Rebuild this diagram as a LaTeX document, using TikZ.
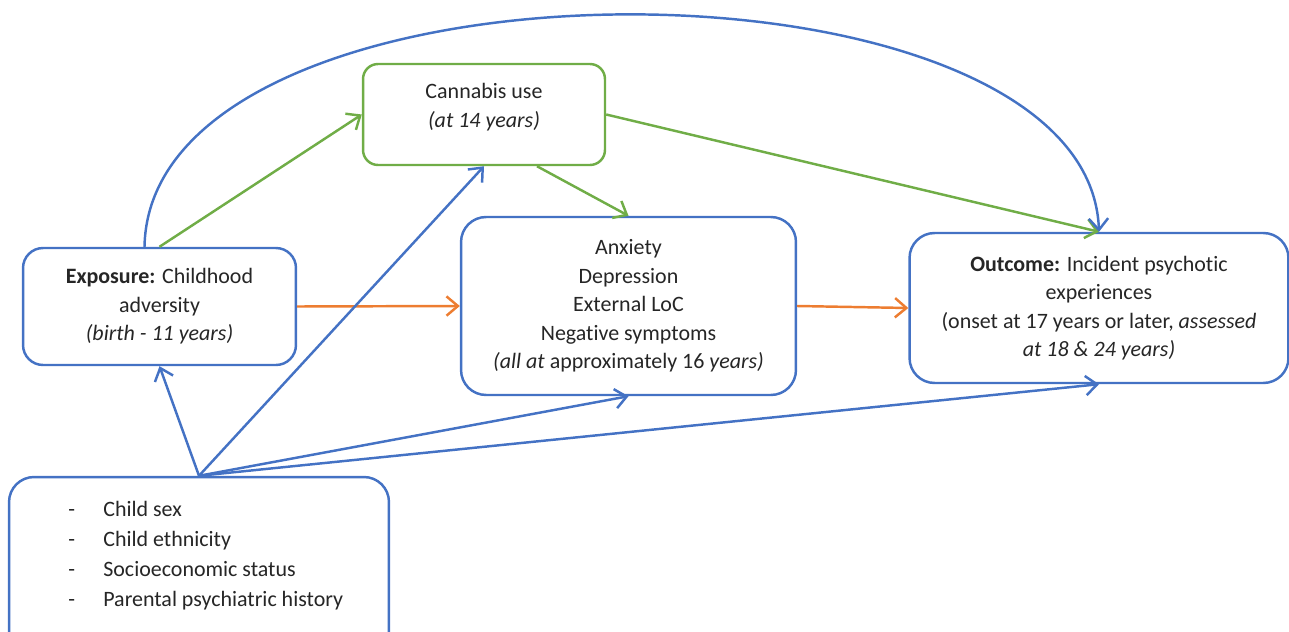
\documentclass[tikz,border=0pt]{standalone}
\usepackage{fontspec}
\setmainfont{Carlito}[Ligatures=NoCommon]
\usetikzlibrary{arrows.meta}
\definecolor{cblue}{HTML}{4472C4}
\definecolor{cgreen}{HTML}{70AD47}
\definecolor{corange}{HTML}{ED7D31}
\definecolor{ctext}{HTML}{262626}
\tikzset{
  box/.style={draw, line width=1.4pt, fill=white, inner sep=0pt, text=ctext,
    align=center, font=\fontsize{12.5}{16.2}\selectfont},
  txt/.style={inner sep=0pt, text=ctext, font=\fontsize{12.5}{16.2}\selectfont},
  conn/.style={line width=1.4pt, -{Straight Barb[length=6.5pt,width=11pt]}},
}
\begin{document}
\begin{tikzpicture}[x=0.02cm,y=-0.02cm]
\useasboundingbox (0,0) rectangle (1289,632);
\clip (0,0) rectangle (1289,632);
% boxes
\node[box, draw=cgreen, minimum width=4.84cm, minimum height=2.02cm, rounded corners=0.3cm] (cann) at (484,114.5) {};
\node[txt, align=center] (canntxt) at (484,107) {Cannabis use\\\textit{(at 14 years)}};
\node[box, draw=cblue, minimum width=5.46cm, minimum height=2.34cm, rounded corners=0.4cm] (expo) at (159.5,306.5)
  {\textbf{Exposure:} Childhood\\adversity\\\textit{(birth - 11 years)}};
\node[box, draw=cblue, minimum width=6.7cm, minimum height=3.56cm, rounded corners=0.5cm] (mid) at (628.5,306)
  {Anxiety\\Depression\\External LoC\\Negative symptoms\\\textit{(all at} approximately 16 \textit{years)}};
\node[box, draw=cblue, minimum width=7.58cm, minimum height=3.0cm, rounded corners=0.5cm] (outc) at (1099,308)
  {\textbf{Outcome:} Incident psychotic\\experiences\\(onset at 17 years or later, \textit{assessed}\\\textit{at 18 \& 24 years)}};
\node[box, draw=cblue, minimum width=7.6cm, minimum height=3.66cm, rounded corners=0.5cm] (conf) at (199,568.5) {};
\node[txt, align=left, anchor=west, font=\fontsize{12.5}{17}\selectfont] (conftxt) at (68,555.5)
  {\makebox[0.7cm][l]{-}Child sex\\\makebox[0.7cm][l]{-}Child ethnicity\\\makebox[0.7cm][l]{-}Socioeconomic status\\\makebox[0.7cm][l]{-}Parental psychiatric history};
% green connectors
\draw[conn, cgreen] (expo.north) -- (cann.west);
\draw[conn, cgreen] ([xshift=1.06cm]cann.south) -- (mid.north);
\draw[conn, cgreen] (cann.east) -- (outc.north);
% curved blue connector
\draw[conn, cblue] ([xshift=-0.3cm]expo.north) .. controls (150,-60) and (1088,-60) .. (outc.north);
% orange connectors
\draw[conn, corange] (expo.east) -- (mid.west);
\draw[conn, corange] (mid.east) -- (outc.west);
% blue connectors from confounders
\draw[conn, cblue] (conf.north) -- (expo.south);
\draw[conn, cblue] (conf.north) -- (cann.south);
\draw[conn, cblue] (conf.north) -- (mid.south);
\draw[conn, cblue] (conf.north) -- (outc.south);
\end{tikzpicture}
\end{document}
